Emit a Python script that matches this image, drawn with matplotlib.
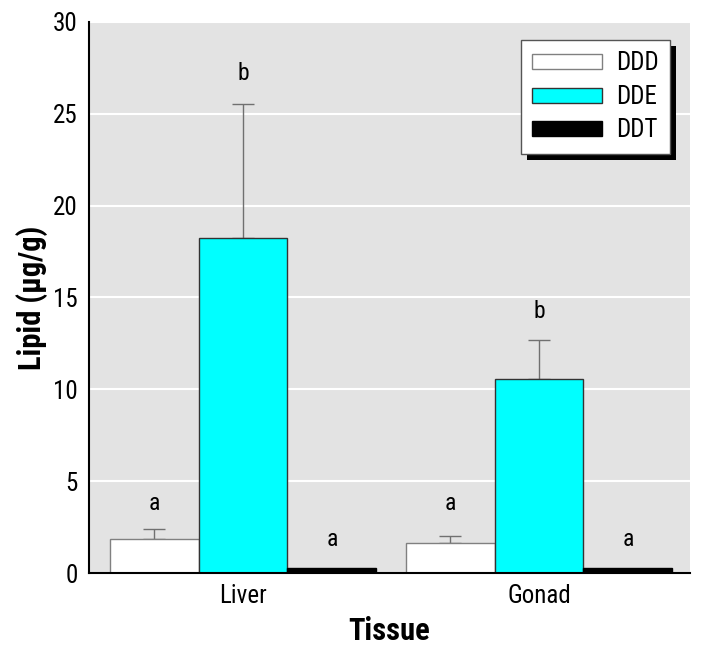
import matplotlib
matplotlib.use("Agg")
import matplotlib.pyplot as plt
import numpy as np
from matplotlib.patches import Rectangle
from matplotlib.transforms import IdentityTransform

plt.rcParams['font.family'] = ['Roboto Condensed', 'DejaVu Sans']

tissues = ["Liver", "Gonad"]
compounds = ["DDD", "DDE", "DDT"]
values = {
    "DDD": [1.85, 1.63],
    "DDE": [18.25, 10.56],
    "DDT": [0.27, 0.27],
}
errors = {
    "DDD": [0.55, 0.37],
    "DDE": [7.3, 2.12],
    "DDT": [0.0, 0.0],
}
letters = {
    "DDD": ["a", "a"],
    "DDE": ["b", "b"],
    "DDT": ["a", "a"],
}
letter_y = {
    "DDD": [3.8, 3.8],
    "DDE": [27.2, 14.25],
    "DDT": [1.85, 1.85],
}
face = {"DDD": "white", "DDE": "#00ffff", "DDT": "black"}
edge = {"DDD": "#808080", "DDE": "#333333", "DDT": "black"}

fig = plt.figure(figsize=(7.07, 6.56), dpi=100)
ax = fig.add_axes([0.126, 0.1265, 0.85, 0.84])
ax.set_facecolor("#e3e3e3")

x = np.arange(len(tissues))
w = 0.3
for i, c in enumerate(compounds):
    pos = x + (i - 1) * w
    ax.bar(pos, values[c], w, color=face[c], edgecolor=edge[c], linewidth=1,
           label=c, zorder=3)
    if max(errors[c]) > 0:
        ax.errorbar(pos, values[c], yerr=[np.zeros(len(pos)), errors[c]],
                    fmt="none", ecolor="#707070", elinewidth=1, capsize=8,
                    capthick=1, zorder=2)
    for p, ly, t in zip(pos, letter_y[c], letters[c]):
        ax.text(p, ly, t, ha="center", va="center", fontsize=17, zorder=4)

ax.set_xlim(-0.52, 1.51)
ax.set_ylim(0, 30)
ax.set_yticks([0, 5, 10, 15, 20, 25, 30])
ax.yaxis.grid(True, color="white", linewidth=1.5, zorder=0)
ax.set_axisbelow(True)
ax.set_xticks(x)
ax.set_xticklabels(tissues)
ax.tick_params(axis="both", length=0, labelsize=18, pad=8)
for s in ["top", "right"]:
    ax.spines[s].set_visible(False)
for s in ["left", "bottom"]:
    ax.spines[s].set_linewidth(1.5)
    ax.spines[s].set_zorder(5)

ax.set_ylabel("Lipid (\u03bcg/g)", fontsize=22, fontweight="bold", labelpad=4)
ax.set_xlabel("Tissue", fontsize=22, fontweight="bold", labelpad=6)

leg = ax.legend(loc="upper right", bbox_to_anchor=(0.967, 0.967),
                borderaxespad=0, fontsize=18,
                handlelength=2.8, handleheight=0.55, labelspacing=0.38,
                borderpad=0.45, handletextpad=0.55, fancybox=False,
                framealpha=1, edgecolor="#555555")
leg.get_frame().set_linewidth(1)
leg.set_zorder(10)

fig.canvas.draw()
bb = leg.get_window_extent()
shadow = Rectangle((bb.x0 + 6, bb.y0 - 6), bb.width, bb.height,
                   transform=IdentityTransform(), facecolor="black",
                   edgecolor="none", zorder=9)
ax.add_artist(shadow)

fig.savefig("out.png", dpi=100)
